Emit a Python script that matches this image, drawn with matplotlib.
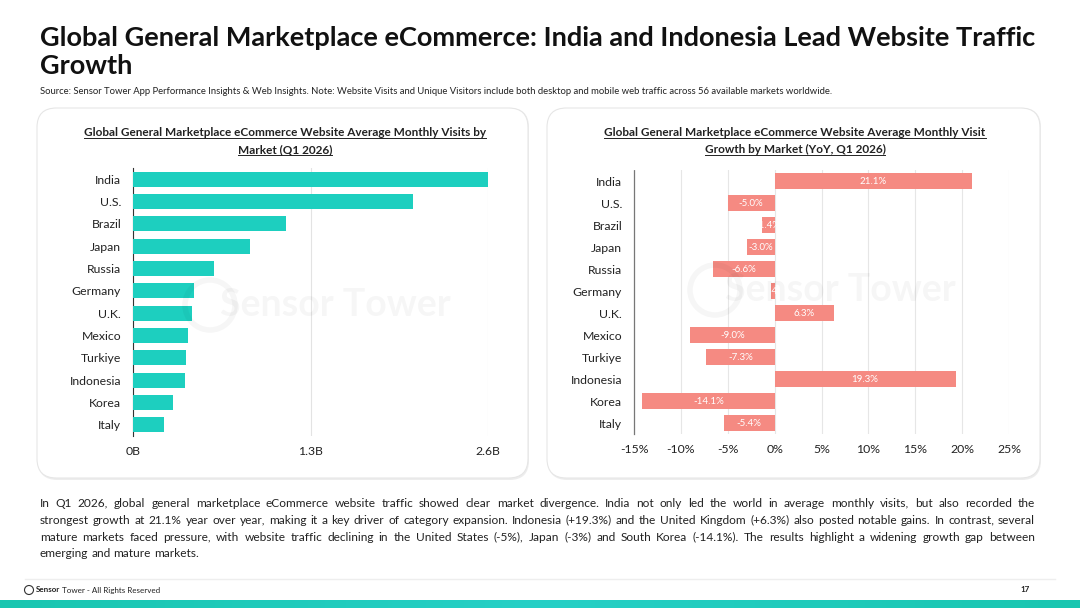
import math
import numpy as np
import matplotlib.pyplot as plt
from matplotlib.patches import FancyBboxPatch, Ellipse
from matplotlib.colors import LinearSegmentedColormap
from matplotlib.font_manager import FontProperties
from matplotlib.backends.backend_agg import get_hinting_flag

plt.rcParams["font.family"] = ["Lato", "DejaVu Sans"]

W, H = 1080, 608

markets = ["India", "U.S.", "Brazil", "Japan", "Russia", "Germany",
           "U.K.", "Mexico", "Turkiye", "Indonesia", "Korea", "Italy"]
visits_b = [2.60, 2.05, 1.12, 0.86, 0.59, 0.45, 0.43, 0.40, 0.39, 0.38, 0.29, 0.23]
growth_pct = [21.1, -5.0, -1.4, -3.0, -6.6, -0.4, 6.3, -9.0, -7.3, 19.3, -14.1, -5.4]

visit_ticks = [0, 1.3, 2.6]
visit_tick_labels = ["0B", "1.3B", "2.6B"]
growth_ticks = [-15, -10, -5, 0, 5, 10, 15, 20, 25]

title_lines = ["Global General Marketplace eCommerce: India and Indonesia Lead Website Traffic",
               "Growth"]
source = ("Source: Sensor Tower App Performance Insights & Web Insights. Note: Website Visits and Unique "
          "Visitors include both desktop and mobile web traffic across 56 available markets worldwide.")
left_title = ["Global General Marketplace eCommerce Website Average Monthly Visits by",
              "Market (Q1 2026)"]
right_title = ["Global General Marketplace eCommerce Website Average Monthly Visit",
               "Growth by Market (YoY, Q1 2026)"]
body_lines = [
    "In Q1 2026, global general marketplace eCommerce website traffic showed clear market divergence. India not only led the world in average monthly visits, but also recorded the",
    "strongest growth at 21.1% year over year, making it a key driver of category expansion. Indonesia (+19.3%) and the United Kingdom (+6.3%) also posted notable gains. In contrast, several",
    "mature markets faced pressure, with website traffic declining in the United States (-5%), Japan (-3%) and South Korea (-14.1%). The results highlight a widening growth gap between",
    "emerging and mature markets.",
]

TEAL = "#1dcfbf"
SALMON = "#f58a82"


def fx(x):
    return x / W


def fy(y):
    return 1 - y / H


fig = plt.figure(figsize=(W / 100, H / 100), dpi=100)
fig.patch.set_facecolor("white")
R = fig.canvas.get_renderer()


def width_px(t):
    return t.get_window_extent(R).width


def snapped_row(word, row, size):
    # agg rounds each text's bitmap on its own; pick the pixel row that
    # puts this word's baseline on the same row as its neighbours
    try:
        font = R._prepare_font(FontProperties(family=plt.rcParams["font.family"], size=size))
        font.set_text(word, 0, flags=get_hinting_flag())
        _, h = font.get_width_height()
        d = font.get_descent() / 64
        ymax = h / 64 - d
        for k in [0, -1, 1, -2, 2]:
            if round(row + k + d) - math.floor(h / 64) + math.floor(ymax) == row:
                return row + k
    except Exception:
        pass
    return row


def justified(lines, x0, x1, rows, fontsize, **kw):
    probe1 = fig.text(0, 0, "a a", fontsize=fontsize, **kw)
    probe2 = fig.text(0, 0, "aa", fontsize=fontsize, **kw)
    space = width_px(probe1) - width_px(probe2)
    probe1.remove()
    probe2.remove()
    for i, line in enumerate(lines):
        words = line.split(" ")
        texts = [fig.text(0, 0, w, va="baseline", ha="left", fontsize=fontsize, **kw)
                 for w in words]
        widths = [width_px(t) for t in texts]
        if i < len(lines) - 1 and len(words) > 1:
            gap = (x1 - x0 - sum(widths)) / (len(words) - 1)
        else:
            gap = space
        x = x0
        for t, w, wd in zip(texts, widths, words):
            t.set_position((fx(x), fy(snapped_row(wd, rows[i], fontsize))))
            x += w + gap


def underlined_title(lines, cx, y0, dy, **kw):
    for j, line in enumerate(lines):
        t = fig.text(fx(cx), fy(y0 + j * dy), line, ha="center", va="baseline", **kw)
        w = width_px(t)
        yy = fy(y0 + j * dy + 2)
        fig.add_artist(plt.Line2D([fx(cx - w / 2), fx(cx + w / 2)], [yy, yy],
                                  transform=fig.transFigure, color="#222222", linewidth=0.7))


for j, line in enumerate(title_lines):
    fig.text(fx(40), fy(46 + j * 28.5), line, fontsize=19.5, fontweight="bold", va="baseline",
             ha="left", color="#111111")
fig.text(fx(40), fy(91), source, fontsize=6.8, va="center", ha="left", color="#222222")

# panels
for x0, x1 in [(37, 528), (547, 1040)]:
    shadow = FancyBboxPatch((fx(x0 + 1), fy(480)), fx(x1 - x0), (480 - 108) / H,
                            boxstyle="round,pad=0,rounding_size=0.018", transform=fig.transFigure,
                            facecolor="#ededed", edgecolor="none", zorder=-2, mutation_aspect=W / H)
    fig.patches.append(shadow)
    panel = FancyBboxPatch((fx(x0), fy(478)), fx(x1 - x0), (478 - 108) / H,
                           boxstyle="round,pad=0,rounding_size=0.018", transform=fig.transFigure,
                           facecolor="white", edgecolor="#e6e6e6", linewidth=0.8, zorder=-1,
                           mutation_aspect=W / H)
    fig.patches.append(panel)

underlined_title(left_title, 285, 136, 17, fontsize=8.5, fontweight="bold", color="#222222")
underlined_title(right_title, 795, 136, 17, fontsize=8.5, fontweight="bold", color="#222222")

# watermarks
for cx, cy in [(320, 305), (825, 290)]:
    fig.text(fx(cx + 15), fy(cy), "Sensor Tower", fontsize=27, fontweight="bold", color="#000000",
             alpha=0.035, ha="center", va="center")
    fig.add_artist(Ellipse((fx(cx - 110), fy(cy)), 50 / W, 50 / H, transform=fig.transFigure,
                           fill=False, edgecolor="#000000", alpha=0.035, linewidth=4))

y = np.arange(len(markets))

# left chart
ax1 = fig.add_axes([fx(133), fy(436), fx(355), (436 - 168) / H])
ax1.set_facecolor("none")
ax1.barh(y, visits_b, height=0.68, color=TEAL, zorder=3)
ax1.set_xlim(0, 2.6)
ax1.set_ylim(len(markets) - 0.5, -0.5)
ax1.set_yticks(y)
ax1.set_yticklabels(markets)
ax1.set_xticks(visit_ticks)
ax1.set_xticklabels(visit_tick_labels)
ax1.grid(axis="x", color="#e3e3e3", linewidth=0.8, zorder=0)
for s in ["top", "right", "bottom"]:
    ax1.spines[s].set_visible(False)
ax1.spines["left"].set_color("#333333")
ax1.spines["left"].set_linewidth(0.8)
ax1.tick_params(axis="both", length=0, labelsize=8.8, colors="#222222")
ax1.tick_params(axis="y", pad=8.5)
ax1.tick_params(axis="x", pad=7)

# right chart
ax2 = fig.add_axes([fx(634), fy(434), fx(375), (434 - 170) / H])
ax2.set_facecolor("none")
ax2.barh(y, growth_pct, height=0.7, color=SALMON, zorder=3)
ax2.set_xlim(-15, 25)
ax2.set_ylim(len(markets) - 0.5, -0.5)
ax2.set_yticks(y)
ax2.set_yticklabels(markets)
ax2.set_xticks(growth_ticks)
ax2.set_xticklabels([f"{t}%" for t in growth_ticks])
ax2.grid(axis="x", color="#e6e6e6", linewidth=0.8, zorder=0)
for s in ["top", "right", "bottom"]:
    ax2.spines[s].set_visible(False)
ax2.spines["left"].set_color("#777777")
ax2.spines["left"].set_linestyle((0, (1, 1)))
ax2.spines["left"].set_linewidth(0.9)
ax2.tick_params(axis="both", length=0, labelsize=8.8, colors="#222222")
ax2.tick_params(axis="y", pad=8.5)
ax2.tick_params(axis="x", pad=7)
for yi, v in zip(y, growth_pct):
    ax2.text(v / 2, yi, f"{v:.1f}%", ha="center", va="center", color="white",
             fontsize=7, zorder=4)

justified(body_lines, 40, 1035, [507, 524, 541, 557], 8.6, color="#222222")

# footer
fig.add_artist(plt.Line2D([fx(25), fx(1055)], [fy(579), fy(579)], transform=fig.transFigure,
                          color="#eeeeee", linewidth=1))
fig.add_artist(Ellipse((fx(29), fy(590)), 9 / W, 9 / H, transform=fig.transFigure, fill=False,
                       edgecolor="#333333", linewidth=0.8))
t1 = fig.text(fx(36), fy(590), "Sensor", fontsize=5.8, fontweight="bold", va="center", ha="left",
              color="#222222")
fig.text(fx(36 + width_px(t1) + 2), fy(590), "Tower - All Rights Reserved", fontsize=5.8,
         va="center", ha="left", color="#222222")
fig.text(fx(1030), fy(590), "17", fontsize=5.8, fontweight="bold", va="center", ha="right",
         color="#222222")
band = np.linspace(0, 1, 256).reshape(1, -1)
bax = fig.add_axes([0, 0, 1, 8 / H])
bax.imshow(band, aspect="auto",
           cmap=LinearSegmentedColormap.from_list("b", ["#19c6b0", "#27d0c6", "#19c6b0"]))
bax.axis("off")

fig.savefig("out.png", dpi=100, facecolor="white")
